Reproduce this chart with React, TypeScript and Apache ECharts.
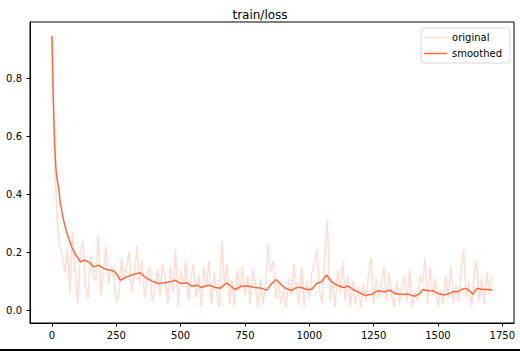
import React, { useEffect, useRef } from "react";
import * as echarts from "echarts";

const titleText = "train/loss";
const seriesNames = ["original", "smoothed"];
const xTicks = [0, 250, 500, 750, 1000, 1250, 1500, 1750];
const yTicks = [0, 0.2, 0.4, 0.6, 0.8];

// original (raw) loss, logged every 10 steps from 0 to 1710
const originalStep = 10;
const originalValues = [
  0.946, 0.52, 0.31, 0.22, 0.19, 0.13, 0.21, 0.06, 0.27, 0.13,
  0.02, 0.2, 0.24, 0.08, 0.04, 0.19, 0.12, 0.1, 0.26, 0.05,
  0.14, 0.22, 0.09, 0.15, 0.12, 0.03, 0.05, 0.18, 0.1, 0.15,
  0.2, 0.06, 0.13, 0.22, 0.09, 0.17, 0.04, 0.12, 0.15, 0.03,
  0.07, 0.14, 0.05, 0.16, 0.11, 0.02, 0.15, 0.06, 0.21, 0.01,
  0.14, 0.08, 0.17, 0.03, 0.11, 0.16, 0.04, 0.12, 0.01, 0.15,
  0.08, 0.17, 0.02, 0.13, 0.06, 0.01, 0.24, 0.09, 0.16, 0.02,
  0.1, 0.01, 0.14, 0.07, 0.15, 0.05, 0.12, 0.02, 0.14, 0.09,
  0.01, 0.11, 0.02, 0.08, 0.23, 0.13, 0.17, 0.04, 0.1, 0.02,
  0.07, 0.01, 0.11, 0.05, 0.16, 0.08, 0.02, 0.15, 0.01, 0.1,
  0.04, 0.13, 0.16, 0.21, 0.07, 0.02, 0.18, 0.31, 0.03, 0.1,
  0.01, 0.14, 0.06, 0.17, 0.03, 0.12, 0.01, 0.1, 0.02, 0.08,
  0.01, 0.09, 0.03, 0.12, 0.18, 0.02, 0.11, 0.04, 0.09, 0.15,
  0.03, 0.13, 0.05, 0.01, 0.1, 0.02, 0.08, 0.12, 0.03, 0.14,
  0.01, 0.06, 0.03, 0.12, 0.09, 0.18, 0.02, 0.15, 0.05, 0.11,
  0.01, 0.07, 0.02, 0.12, 0.04, 0.15, 0.02, 0.09, 0.03, 0.13,
  0.21, 0.04, 0.1, 0.01, 0.12, 0.17, 0.03, 0.11, 0.02, 0.13,
  0.05, 0.12,
];

// smoothed loss, read at its own steps
const smoothedSteps = [
  0, 3, 6, 10, 15, 20, 26, 32, 45, 58, 64, 75, 84, 97, 110, 129, 149, 162,
  181, 200, 220, 239, 252, 265, 284, 309, 343, 362, 388, 414, 440, 466, 478,
  498, 524, 543, 563, 582, 595, 614, 634, 653, 679, 711, 737, 757, 789, 815,
  834, 854, 873, 893, 905, 931, 950, 970, 989, 1009, 1028, 1048, 1067, 1087,
  1106, 1132, 1151, 1170, 1196, 1216, 1242, 1267, 1293, 1313, 1332, 1358,
  1384, 1410, 1429, 1442, 1461, 1481, 1500, 1526, 1559, 1578, 1591, 1608,
  1623, 1636, 1652, 1675, 1694, 1712,
];
const smoothedValues = [
  0.946, 0.8, 0.7, 0.58, 0.49, 0.45, 0.42, 0.37, 0.31, 0.265, 0.25, 0.22,
  0.205, 0.184, 0.167, 0.172, 0.161, 0.149, 0.155, 0.144, 0.138, 0.136, 0.124,
  0.103, 0.112, 0.121, 0.129, 0.113, 0.1, 0.092, 0.094, 0.099, 0.103, 0.092,
  0.094, 0.083, 0.086, 0.078, 0.083, 0.086, 0.078, 0.075, 0.094, 0.071, 0.083,
  0.083, 0.078, 0.075, 0.069, 0.092, 0.105, 0.086, 0.076, 0.067, 0.078, 0.078,
  0.071, 0.071, 0.092, 0.098, 0.121, 0.098, 0.086, 0.078, 0.083, 0.071, 0.06,
  0.05, 0.055, 0.067, 0.063, 0.069, 0.057, 0.055, 0.055, 0.048, 0.057, 0.071,
  0.067, 0.067, 0.057, 0.052, 0.063, 0.063, 0.071, 0.075, 0.067, 0.055, 0.075,
  0.071, 0.071, 0.069,
];

const lineColor = "#FF6A3D";
const lightColor = "#FFDDD2";
const font = "DejaVu Sans";

export default function App() {
  const ref = useRef<HTMLDivElement>(null);
  useEffect(() => {
    if (!ref.current) return;
    const chart = echarts.init(ref.current, null, { renderer: "svg" });
    const originalData = originalValues.map((v, i) => [i * originalStep, v]);
    const smoothedData = smoothedSteps.map((s, i) => [s, smoothedValues[i]]);
    chart.setOption({
      animation: false,
      backgroundColor: "#fff",
      textStyle: { fontFamily: font },
      title: {
        text: titleText,
        left: "center",
        top: 4,
        textStyle: { fontFamily: font, fontSize: 12, fontWeight: "normal", color: "#000" },
      },
      grid: {
        left: 30,
        right: 6,
        top: 22,
        bottom: 28,
        show: true,
        borderColor: "#000",
        borderWidth: 1,
        containLabel: false,
      },
      legend: {
        orient: "vertical",
        right: 10,
        top: 28,
        data: seriesNames,
        icon: "rect",
        itemWidth: 23,
        itemHeight: 1.5,
        itemGap: 5,
        padding: [4, 8, 4, 3],
        backgroundColor: "#fff",
        borderColor: "#d6d6d6",
        borderWidth: 1,
        borderRadius: 3,
        textStyle: { fontFamily: font, fontSize: 10, color: "#000", lineHeight: 11 },
      },
      xAxis: {
        type: "value",
        min: -85.5,
        max: 1795.5,
        splitLine: { show: false },
        axisLine: { show: true, onZero: false, lineStyle: { color: "#000", width: 1 } },
        axisTick: {
          show: true,
          length: 3.5,
          customValues: xTicks,
          lineStyle: { color: "#000" },
        },
        axisLabel: {
          customValues: xTicks,
          margin: 7,
          fontFamily: font,
          fontSize: 10,
          color: "#000",
          formatter: (v: number) => String(v),
        },
      },
      yAxis: {
        type: "value",
        min: -0.0445,
        max: 0.9935,
        splitLine: { show: false },
        axisLine: { show: true, onZero: false, lineStyle: { color: "#000", width: 1 } },
        axisTick: {
          show: true,
          length: 3.5,
          customValues: yTicks,
          lineStyle: { color: "#000" },
        },
        axisLabel: {
          customValues: yTicks,
          margin: 8,
          fontFamily: font,
          fontSize: 10,
          color: "#000",
          formatter: (v: number) => v.toFixed(1),
        },
      },
      series: [
        {
          name: seriesNames[0],
          type: "line",
          data: originalData,
          symbol: "none",
          showSymbol: false,
          lineStyle: { color: lightColor, width: 1.5 },
          itemStyle: { color: lightColor },
          z: 2,
        },
        {
          name: seriesNames[1],
          type: "line",
          data: smoothedData,
          symbol: "none",
          showSymbol: false,
          lineStyle: { color: lineColor, width: 1.5 },
          itemStyle: { color: lineColor },
          z: 3,
        },
      ],
      graphic: [
        {
          type: "rect",
          left: 0,
          bottom: 0,
          shape: { width: 520, height: 2 },
          style: { fill: "#000" },
        },
      ],
    });
    return () => chart.dispose();
  }, []);
  return <div ref={ref} style={{ width: 520, height: 351, position: "fixed", left: 0, top: 0 }} />;
}
